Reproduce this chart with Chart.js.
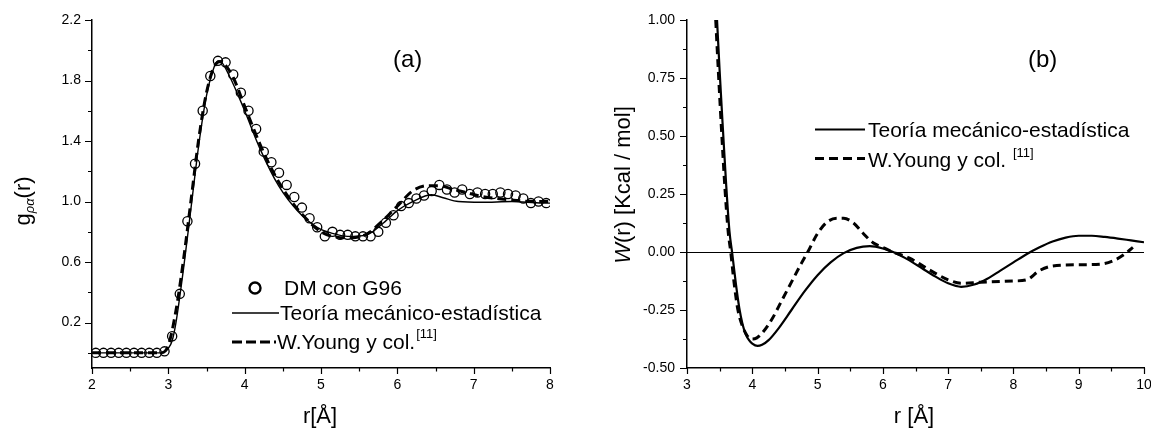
<!DOCTYPE html>
<html><head><meta charset="utf-8">
<script src="https://cdn.jsdelivr.net/npm/chart.js@4.4.1/dist/chart.umd.min.js"></script>
<style>
html,body{margin:0;padding:0;background:#fff;overflow:hidden;width:1151px;height:428px}
#wa{position:absolute;left:0;top:0;width:575px;height:428px}
#wb{position:absolute;left:575px;top:0;width:576px;height:428px}
canvas{display:block}
</style></head><body>
<div id="wa"><canvas id="ca" width="575" height="428"></canvas></div>
<div id="wb"><canvas id="cb" width="576" height="428"></canvas></div>
<script>
const FONT = "'Liberation Sans', Arial, sans-serif";

// ---------- Panel (a): g(r) ----------
const aDmR = [2.05,2.15,2.25,2.35,2.45,2.55,2.65,2.75,2.85,2.95,3.05,3.15,3.25,3.35,3.45,3.55,3.65,3.75,3.85,3.95,4.05,4.15,4.25,4.35,4.45,4.55,4.65,4.75,4.85,4.95,5.05,5.15,5.25,5.35,5.45,5.55,5.65,5.75,5.85,5.95,6.05,6.15,6.25,6.35,6.45,6.55,6.65,6.75,6.85,6.95,7.05,7.15,7.25,7.35,7.45,7.55,7.65,7.75,7.85,7.95];
const aDmG = [0,0,0,0,0,0,0,0,0,0.01,0.11,0.39,0.87,1.25,1.60,1.83,1.93,1.92,1.84,1.72,1.60,1.48,1.33,1.26,1.19,1.11,1.03,0.96,0.89,0.83,0.77,0.80,0.78,0.78,0.77,0.77,0.77,0.80,0.86,0.91,0.97,0.99,1.02,1.04,1.07,1.11,1.08,1.06,1.08,1.05,1.06,1.05,1.05,1.06,1.05,1.04,1.02,0.99,1.00,0.99];
const aTeoR = [2.0,2.5,2.9,3.0,3.05,3.1,3.2,3.3,3.4,3.5,3.6,3.65,3.7,3.8,3.9,4.0,4.2,4.45,4.7,4.95,5.15,5.35,5.6,5.8,6.0,6.2,6.45,6.6,6.8,7.1,7.5,7.9,8.0];
const aTeoG = [0,0,0,0.03,0.08,0.2,0.56,0.97,1.38,1.70,1.89,1.93,1.92,1.83,1.72,1.60,1.35,1.10,0.935,0.83,0.79,0.77,0.78,0.85,0.94,1.0,1.045,1.025,1.0,0.995,1.0,0.99,0.99];
const aYoungR = [2.0,2.5,2.9,3.0,3.1,3.2,3.3,3.4,3.5,3.6,3.68,3.75,3.85,4.0,4.2,4.4,4.6,4.8,5.0,5.2,5.4,5.6,5.8,6.0,6.2,6.4,6.55,6.7,6.9,7.1,7.5,7.8,8.0];
const aYoungG = [0,0,0,0.05,0.28,0.62,1.02,1.42,1.72,1.89,1.925,1.9,1.82,1.63,1.38,1.17,1.01,0.89,0.80,0.765,0.76,0.785,0.87,0.97,1.07,1.105,1.105,1.085,1.06,1.035,1.01,1.0,1.0];
const aXMajor = [2,3,4,5,6,7,8];
const aXLabels = ['2','3','4','5','6','7','8'];
const aXMinor = [2.5,3.5,4.5,5.5,6.5,7.5];
const aYMajor = [0.2,0.6,1.0,1.4,1.8,2.2];
const aYLabels = ['0.2','0.6','1.0','1.4','1.8','2.2'];
const aYMinor = [0.0,0.4,0.8,1.2,1.6,2.0];

// ---------- Panel (b): W(r) ----------
const bTeoR = [3.46,3.50,3.55,3.60,3.65,3.69,3.75,3.80,3.85,3.90,3.95,4.00,4.08,4.15,4.25,4.40,4.60,4.80,5.00,5.20,5.40,5.60,5.80,6.00,6.20,6.40,6.60,6.80,7.00,7.20,7.40,7.60,7.80,8.00,8.20,8.40,8.60,8.80,9.00,9.20,9.40,9.60,9.80,10.0];
const bTeoW = [1.00,0.78,0.53,0.29,0.09,0.00,-0.14,-0.24,-0.31,-0.355,-0.38,-0.395,-0.405,-0.40,-0.38,-0.33,-0.25,-0.17,-0.10,-0.045,-0.005,0.018,0.025,0.015,-0.005,-0.035,-0.07,-0.105,-0.135,-0.15,-0.14,-0.115,-0.08,-0.045,-0.01,0.02,0.045,0.062,0.07,0.07,0.065,0.058,0.05,0.042];
const bYoungR = [3.44,3.48,3.53,3.58,3.63,3.67,3.72,3.78,3.85,3.92,4.00,4.07,4.15,4.30,4.45,4.60,4.75,4.85,5.00,5.15,5.30,5.40,5.55,5.70,5.85,6.00,6.15,6.40,6.70,7.00,7.20,7.50,8.00,8.20,8.40,8.60,9.00,9.35,9.55,9.70,9.83];
const bYoungW = [1.00,0.78,0.52,0.28,0.09,0.00,-0.13,-0.25,-0.32,-0.36,-0.375,-0.37,-0.35,-0.29,-0.21,-0.13,-0.05,0.00,0.08,0.13,0.145,0.145,0.125,0.08,0.04,0.02,0.00,-0.025,-0.075,-0.12,-0.135,-0.13,-0.125,-0.12,-0.08,-0.06,-0.055,-0.052,-0.035,-0.01,0.02];
const bXMajor = [3,4,5,6,7,8,9,10];
const bXLabels = ['3','4','5','6','7','8','9','10'];
const bXMinor = [3.5,4.5,5.5,6.5,7.5,8.5,9.5];
const bYMajor = [-0.5,-0.25,0,0.25,0.5,0.75,1.0];
const bYLabels = ['-0.50','-0.25','0.00','0.25','0.50','0.75','1.00'];
const bYMinor = [-0.375,-0.125,0.125,0.375,0.625,0.875];

const pts = (xs, ys) => xs.map((x, i) => ({x: x, y: ys[i]}));

function axis(min, max, major, labels, isX, size, pad) {
  return {
    type: 'linear', min: min, max: max,
    afterBuildTicks: s => { s.ticks = major.map(v => ({value: v})); },
    afterFit: s => {
      if (isX) { s.height = size; s.paddingLeft = 0; s.paddingRight = 0; }
      else { s.width = size; s.paddingTop = 0; s.paddingBottom = 0; }
    },
    grid: {display: false, drawTicks: false},
    border: {display: true, color: '#000', width: 1.5},
    ticks: {autoSkip: false, maxRotation: 0, minRotation: 0, padding: pad, color: '#000',
            font: {family: FONT, size: 14}, callback: (v, i) => labels[i]}
  };
}

function drawTickMarks(chart, xMaj, xMin, yMaj, yMin) {
  const ctx = chart.ctx, a = chart.chartArea, xs = chart.scales.x, ys = chart.scales.y;
  ctx.save();
  ctx.strokeStyle = '#000'; ctx.lineWidth = 1.2;
  ctx.beginPath();
  xMaj.forEach(v => { const p = Math.round(xs.getPixelForValue(v)) + 0.5; ctx.moveTo(p, a.bottom); ctx.lineTo(p, a.bottom + 6); });
  xMin.forEach(v => { const p = Math.round(xs.getPixelForValue(v)) + 0.5; ctx.moveTo(p, a.bottom); ctx.lineTo(p, a.bottom + 3.5); });
  yMaj.forEach(v => { const p = Math.round(ys.getPixelForValue(v)) + 0.5; ctx.moveTo(a.left, p); ctx.lineTo(a.left - 7, p); });
  yMin.forEach(v => { const p = Math.round(ys.getPixelForValue(v)) + 0.5; ctx.moveTo(a.left, p); ctx.lineTo(a.left - 4, p); });
  ctx.stroke();
  ctx.restore();
}

function setFont(ctx, size, italic) { ctx.font = (italic ? 'italic ' : '') + size + 'px ' + FONT; }
function put(ctx, s, x, y, size, italic) { setFont(ctx, size, italic); ctx.fillText(s, x, y); return ctx.measureText(s).width; }
function w(ctx, s, size, italic) { setFont(ctx, size, italic); return ctx.measureText(s).width; }

const LEG = 21;

// ---------- Chart (a) ----------
new Chart(document.getElementById('ca'), {
  type: 'scatter',
  data: {datasets: [
    {label: 'DM con G96', data: pts(aDmR, aDmG), showLine: false, pointStyle: 'circle', pointRadius: 4.6,
     pointBorderWidth: 1.3, pointBorderColor: '#000', pointBackgroundColor: 'rgba(0,0,0,0)'},
    {label: 'Teoría mecánico-estadística', data: pts(aTeoR, aTeoG), showLine: true, pointRadius: 0,
     borderColor: '#000', borderWidth: 1.4, cubicInterpolationMode: 'monotone'},
    {label: 'W.Young y col.', data: pts(aYoungR, aYoungG), showLine: true, pointRadius: 0,
     borderColor: '#000', borderWidth: 3, borderDash: [9, 5], cubicInterpolationMode: 'monotone'}
  ]},
  options: {
    responsive: false, animation: false, devicePixelRatio: 1,
    layout: {padding: {left: 0, right: 25, top: 20, bottom: 0}},
    plugins: {legend: {display: false}, tooltip: {enabled: false}},
    scales: {
      x: axis(2, 8, aXMajor, aXLabels, true, 60, 9),
      y: axis(-0.1, 2.2, aYMajor, aYLabels, false, 92, 11)
    }
  },
  plugins: [{
    id: 'decoA',
    afterDraw(chart) {
      const ctx = chart.ctx;
      drawTickMarks(chart, aXMajor, aXMinor, aYMajor, aYMinor);
      ctx.save();
      ctx.fillStyle = '#000'; ctx.textAlign = 'left'; ctx.textBaseline = 'alphabetic';
      put(ctx, '(a)', 393, 67, 24);
      const xt = 'r[Å]';
      put(ctx, xt, 320 - w(ctx, xt, 22) / 2, 423, 22);
      ctx.save();
      ctx.translate(30, 201); ctx.rotate(-Math.PI / 2);
      const tw = w(ctx, 'g', 22) + w(ctx, 'ρα', 13, true) + w(ctx, '(r)', 22);
      let u = -tw / 2;
      u += put(ctx, 'g', u, 0, 22);
      u += put(ctx, 'ρα', u, 4, 13, true);
      put(ctx, '(r)', u, 0, 22);
      ctx.restore();
      ctx.strokeStyle = '#000';
      ctx.lineWidth = 2.4;
      ctx.beginPath(); ctx.arc(255, 288, 5.5, 0, Math.PI * 2); ctx.stroke();
      put(ctx, 'DM con G96', 284, 295, LEG);
      ctx.lineWidth = 1.5;
      ctx.beginPath(); ctx.moveTo(232, 313); ctx.lineTo(279, 313); ctx.stroke();
      put(ctx, 'Teoría mecánico-estadística', 280, 320, LEG);
      ctx.lineWidth = 3; ctx.setLineDash([10, 4]);
      ctx.beginPath(); ctx.moveTo(232, 342); ctx.lineTo(276, 342); ctx.stroke();
      ctx.setLineDash([]);
      const x2 = 277 + put(ctx, 'W.Young y col.', 277, 349, LEG);
      put(ctx, '[11]', x2 + 1, 338, 13);
      ctx.restore();
    }
  }]
});

// ---------- Chart (b) ----------
new Chart(document.getElementById('cb'), {
  type: 'scatter',
  data: {datasets: [
    {label: 'Teoría mecánico-estadística', data: pts(bTeoR, bTeoW), showLine: true, pointRadius: 0,
     borderColor: '#000', borderWidth: 2.2, cubicInterpolationMode: 'monotone'},
    {label: 'W.Young y col.', data: pts(bYoungR, bYoungW), showLine: true, pointRadius: 0,
     borderColor: '#000', borderWidth: 3, borderDash: [8, 5], cubicInterpolationMode: 'monotone'}
  ]},
  options: {
    responsive: false, animation: false, devicePixelRatio: 1,
    layout: {padding: {left: 0, right: 7, top: 20, bottom: 0}},
    plugins: {legend: {display: false}, tooltip: {enabled: false}},
    scales: {
      x: axis(3, 10, bXMajor, bXLabels, true, 60, 9),
      y: axis(-0.5, 1.0, bYMajor, bYLabels, false, 112, 12)
    }
  },
  plugins: [{
    id: 'zeroB',
    beforeDatasetsDraw(chart) {
      const ctx = chart.ctx, a = chart.chartArea;
      const p = Math.round(chart.scales.y.getPixelForValue(0)) + 0.5;
      ctx.save(); ctx.strokeStyle = '#000'; ctx.lineWidth = 1;
      ctx.beginPath(); ctx.moveTo(a.left, p); ctx.lineTo(a.right, p); ctx.stroke();
      ctx.restore();
    },
    afterDraw(chart) {
      const ctx = chart.ctx;
      drawTickMarks(chart, bXMajor, bXMinor, bYMajor, bYMinor);
      ctx.save();
      ctx.fillStyle = '#000'; ctx.textAlign = 'left'; ctx.textBaseline = 'alphabetic';
      put(ctx, '(b)', 453, 67, 24);
      const xt = 'r [Å]';
      put(ctx, xt, 339 - w(ctx, xt, 22) / 2, 423, 22);
      ctx.save();
      ctx.translate(55, 185); ctx.rotate(-Math.PI / 2);
      const tw = w(ctx, 'W', 22, true) + w(ctx, '(r) [Kcal / mol]', 22);
      let u = -tw / 2;
      u += put(ctx, 'W', u, 0, 22, true);
      put(ctx, '(r) [Kcal / mol]', u, 0, 22);
      ctx.restore();
      ctx.strokeStyle = '#000';
      ctx.lineWidth = 2.2;
      ctx.beginPath(); ctx.moveTo(240, 129.5); ctx.lineTo(290, 129.5); ctx.stroke();
      put(ctx, 'Teoría mecánico-estadística', 293, 137, LEG);
      ctx.lineWidth = 3; ctx.setLineDash([9, 5]);
      ctx.beginPath(); ctx.moveTo(240, 158.5); ctx.lineTo(290, 158.5); ctx.stroke();
      ctx.setLineDash([]);
      const x2 = 293 + put(ctx, 'W.Young y col. ', 293, 167, LEG);
      put(ctx, '[11]', x2 + 1, 157, 13);
      ctx.restore();
    }
  }]
});
</script>
</body></html>
